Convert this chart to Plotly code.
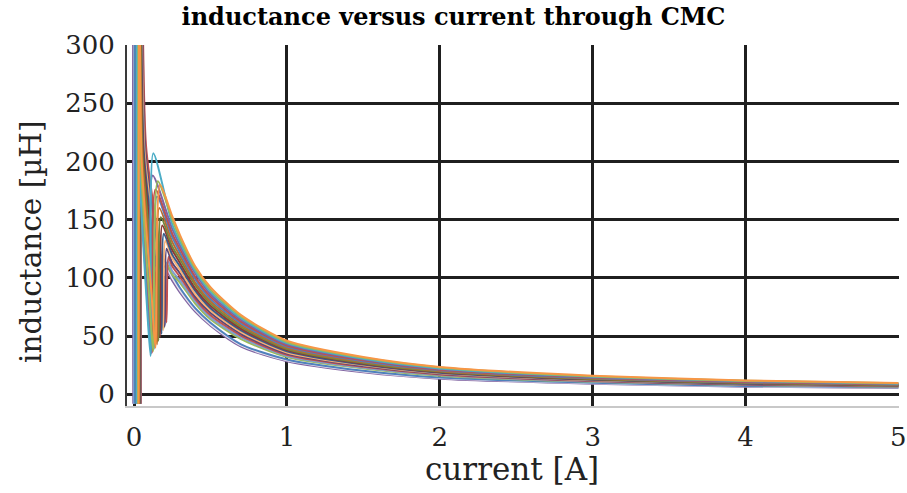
import plotly.graph_objects as go

# Sweep traces of a common-mode choke: inductance in µH against current in A.
# Each trace: a vertical spike near zero current, a steep fall through a knee
# to a dip, a sharp rise to a peak, then a long decaying tail.

spike_x = [0.030, 0.026, 0.015, 0.017, 0.020, 0.024, 0.032, 0.034, 0.036,
           0.038, 0.040, 0.042, 0.044, 0.043, 0.041, 0.002, 0.000, -0.005]
fall_x = [0.050, 0.045, 0.036, 0.038, 0.040, 0.045, 0.052, 0.056, 0.060,
          0.064, 0.068, 0.072, 0.078, 0.075, 0.070, 0.040, 0.042, 0.044]
fall_y = [200, 198, 195, 196, 198, 200, 202, 204, 206,
          208, 210, 212, 214, 212, 210, 210, 212, 214]
knee_x = [0.115, 0.100, 0.085, 0.088, 0.093, 0.105, 0.125, 0.135, 0.145,
          0.155, 0.165, 0.175, 0.187, 0.180, 0.170, 0.120, 0.125, 0.130]
knee_y = [85, 82, 75, 78, 80, 84, 88, 91, 94,
          97, 100, 103, 107, 105, 102, 100, 104, 108]
dip_x = [0.140, 0.125, 0.108, 0.112, 0.118, 0.130, 0.150, 0.160, 0.170,
         0.180, 0.190, 0.200, 0.212, 0.205, 0.195, 0.145, 0.150, 0.155]
dip_y = [40, 37, 33, 35, 36, 39, 43, 46, 49,
         52, 55, 58, 62, 60, 57, 60, 62, 64]
peak_x = [0.170, 0.155, 0.126, 0.122, 0.140, 0.150, 0.165, 0.175, 0.185,
          0.195, 0.205, 0.213, 0.225, 0.220, 0.215, 0.166, 0.170, 0.174]
peak_y = [180, 183, 207, 188, 176, 170, 160, 152, 145,
          138, 132, 125, 118, 115, 112, 121, 118, 115]

tail_x = [0.25, 0.3, 0.4, 0.5, 0.7, 1.0, 1.5, 2.0, 3.0, 4.0, 5.0]
tail_y = [
    [153, 137, 110, 92, 68, 46, 32, 23.5, 16, 12, 9.8],
    [150, 134, 108, 90, 67, 45, 31.5, 23, 15.6, 11.7, 9.5],
    [146, 131, 106, 88, 65.5, 44, 30.5, 22.3, 15.2, 11.4, 9.2],
    [142, 128, 104, 86, 64, 43, 30, 21.8, 14.8, 11, 9],
    [138, 125, 101, 84, 62.5, 42, 29.2, 21.2, 14.4, 10.7, 8.7],
    [135, 122, 99, 82, 61, 41, 28.5, 20.7, 14, 10.4, 8.4],
    [131, 119, 96, 80, 59.5, 40, 27.7, 20.1, 13.6, 10.1, 8.2],
    [127, 116, 94, 78, 58, 39, 27, 19.6, 13.2, 9.8, 7.9],
    [124, 113, 91, 76, 56.5, 38, 26.3, 19.1, 12.9, 9.5, 7.7],
    [120, 110, 89, 74, 55, 37, 25.6, 18.6, 12.5, 9.2, 7.5],
    [117, 107, 86, 72, 53.5, 36, 25, 18.1, 12.2, 9, 7.3],
    [113, 104, 84, 70, 52, 35, 24.3, 17.6, 11.8, 8.7, 7.1],
    [110, 101, 82, 68, 50.5, 34, 23.6, 17.1, 11.5, 8.5, 6.9],
    [106, 98, 80, 66, 49, 33, 22.9, 16.6, 11.1, 8.2, 6.7],
    [103, 96, 78, 64.5, 47.5, 32, 22.2, 16, 10.8, 8, 6.5],
    [102.5, 91.5, 74, 61.5, 43, 30, 20.3, 14.5, 10, 7.2, 6],
    [100, 89.5, 72.5, 60, 42, 29.2, 19.7, 14, 9.6, 6.9, 5.8],
    [97.5, 87.5, 71, 59, 41, 28.5, 19, 13.5, 9.2, 6.6, 5.5],
]

spike_low = -8
spike_high = 450

colors = ["#F79646", "#9BBB59", "#4BACC6", "#8064A2", "#C0504D", "#4F81BD",
          "#B66D31", "#71893F", "#8C3836", "#385D8A", "#F9B074", "#5C4776",
          "#C0504D", "#7F9FCF", "#9BBB59", "#4F81BD", "#E6E0EC", "#8064A2"]

x_ticks = [0, 1, 2, 3, 4, 5]
y_ticks = [0, 50, 100, 150, 200, 250, 300]

fig = go.Figure()
order = list(range(len(spike_x)))[::-1]
for i in order:
    xs = ([spike_x[i], spike_x[i] + 0.003, fall_x[i], knee_x[i], dip_x[i], peak_x[i]]
          + tail_x)
    ys = ([spike_low, spike_high, fall_y[i], knee_y[i], dip_y[i], peak_y[i]]
          + tail_y[i])
    fig.add_trace(go.Scatter(
        x=xs, y=ys, mode="lines",
        line=dict(color=colors[i], width=2, shape="spline", smoothing=0.7),
        showlegend=False, hoverinfo="skip",
    ))

serif = "DejaVu Serif"
text_color = "#222222"
fig.update_layout(
    width=907, height=493,
    margin=dict(l=127, r=8, t=45, b=87),
    paper_bgcolor="white", plot_bgcolor="white",
    title=dict(text="<b>inductance versus current through CMC</b>",
               x=0.5, xanchor="center", y=1 - 17 / 493, yanchor="middle",
               yref="container",
               font=dict(family=serif, size=24, color="black")),
    font=dict(family=serif, color=text_color),
    annotations=[
        dict(text="current [A]", xref="paper", yref="paper",
             x=(512 - 127) / 772, y=(406 - 469) / 361,
             xanchor="center", yanchor="middle", showarrow=False,
             font=dict(family=serif, size=31, color=text_color)),
        dict(text="inductance [µH]", xref="paper", yref="paper",
             x=(31 - 127) / 772, y=(406 - 242) / 361, textangle=-90,
             xanchor="center", yanchor="middle", showarrow=False,
             font=dict(family=serif, size=29.5, color=text_color)),
    ],
)
fig.update_xaxes(
    range=[-0.046, 5.004], tickvals=x_ticks, ticktext=[str(v) for v in x_ticks],
    showgrid=True, gridcolor="#1f1f1f", gridwidth=2.5, zeroline=False,
    showline=True, linecolor="#c8c8c8", linewidth=2,
    ticks="", ticklabelstandoff=7, automargin=False,
    tickfont=dict(family=serif, size=26, color=text_color),
)
fig.update_yaxes(
    range=[-10, 300], tickvals=y_ticks, ticktext=[str(v) for v in y_ticks],
    showgrid=True, gridcolor="#1f1f1f", gridwidth=2.5, zeroline=False,
    showline=True, linecolor="#3a3a3a", linewidth=2,
    ticks="", ticklabelstandoff=5, automargin=False,
    tickfont=dict(family=serif, size=26, color=text_color),
)

fig.write_html("out.html")
